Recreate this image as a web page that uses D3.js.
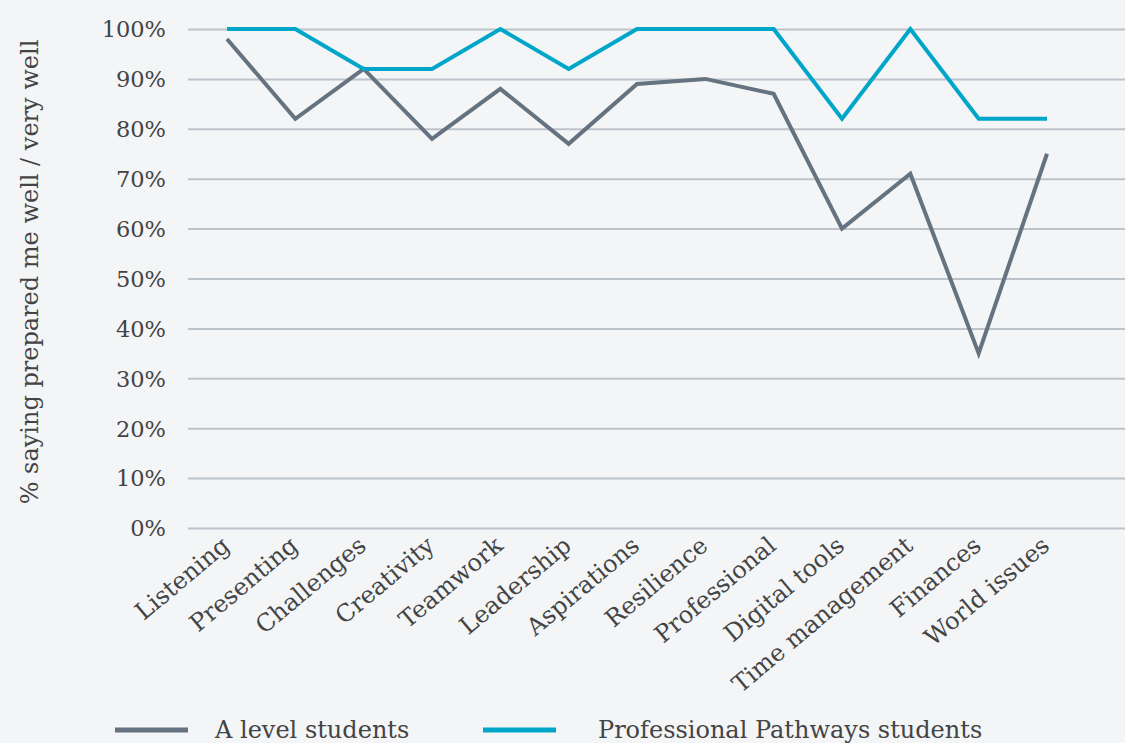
<!DOCTYPE html>
<html lang="en">
<head>
<meta charset="UTF-8">
<title>Prepared me well</title>
<script src="https://d3js.org/d3.v7.min.js"></script>
<style>
    body{
        margin: 0;
        background-color: #f3f5f7;
    }
    svg{
        display: block;
        background-color: #f3f5f7;
        font-family: "DejaVu Serif", serif;
    }
</style>
</head>
<body>
<svg></svg>
<script>
    const width = 1125;
    const height = 743;

    // data
    const skills = ['Listening', 'Presenting', 'Challenges', 'Creativity', 'Teamwork', 'Leadership',
        'Aspirations', 'Resilience', 'Professional', 'Digital tools', 'Time management', 'Finances', 'World issues'];
    const aLevel = [98, 82, 92, 78, 88, 77, 89, 90, 87, 60, 71, 35, 75];
    const pathways = [100, 100, 92, 92, 100, 92, 100, 100, 100, 82, 100, 82, 82];
    const yTicks = [0, 10, 20, 30, 40, 50, 60, 70, 80, 90, 100];
    const seriesNames = ['A level students', 'Professional Pathways students'];
    const seriesColors = ['#65727f', '#00a6c9'];

    const svg = d3.select('svg')
        .attr('width', width)
        .attr('height', height);

    const plotLeft = 188, plotRight = 1125, plotTop = 29, plotBottom = 528;

    const x = d3.scalePoint()
        .domain(skills)
        .range([227, 1047]);

    const y = d3.scaleLinear()
        .domain([0, 100])
        .range([plotBottom, plotTop]);

    /* horizontal grid + y labels */
    const yAxis = svg.append('g')
        .attr('transform', `translate(${plotLeft},0)`)
        .call(d3.axisLeft(y).tickValues(yTicks).tickSize(-(plotRight - plotLeft)).tickPadding(22).tickFormat(d => d + '%'));
    yAxis.select('.domain').remove();
    yAxis.selectAll('line')
        .attr('stroke', '#bcc3ca')
        .attr('stroke-width', 2);
    yAxis.selectAll('text')
        .attr('fill', '#444')
        .style('font-size', '22.5px')
        .style('font-family', '"DejaVu Serif", serif')
        .attr('dy', '0.35em');

    svg.append('text')
        .attr('transform', `translate(38,272) rotate(-90)`)
        .attr('text-anchor', 'middle')
        .attr('fill', '#444')
        .style('font-size', '24px')
        .text('% saying prepared me well / very well');

    /* x labels, rotated */
    svg.append('g')
        .selectAll('text')
        .data(skills)
        .join('text')
        .attr('transform', d => `translate(${x(d) + 4},${plotBottom + 20}) rotate(-40)`)
        .attr('text-anchor', 'end')
        .attr('fill', '#444')
        .style('font-size', '24px')
        .text(d => d);

    /* lines */
    const line = d3.line()
        .x((d, i) => x(skills[i]))
        .y(d => y(d));

    [aLevel, pathways].forEach((vals, i) => {
        svg.append('path')
            .datum(vals)
            .attr('fill', 'none')
            .attr('stroke', seriesColors[i])
            .attr('stroke-width', 4)
            .attr('d', line);
    });

    /* legend */
    const legendX = [115, 483];
    const legend = svg.append('g')
        .selectAll('g')
        .data(seriesNames)
        .join('g')
        .attr('transform', (d, i) => `translate(${legendX[i]},730)`);
    legend.append('line')
        .attr('x1', 0).attr('x2', 73)
        .attr('stroke', (d, i) => seriesColors[i])
        .attr('stroke-width', 5);
    legend.append('text')
        .attr('x', (d, i) => i === 0 ? 100 : 115)
        .attr('dy', '0.35em')
        .attr('fill', '#444')
        .style('font-size', '24px')
        .text(d => d);
</script>
</body>
</html>
